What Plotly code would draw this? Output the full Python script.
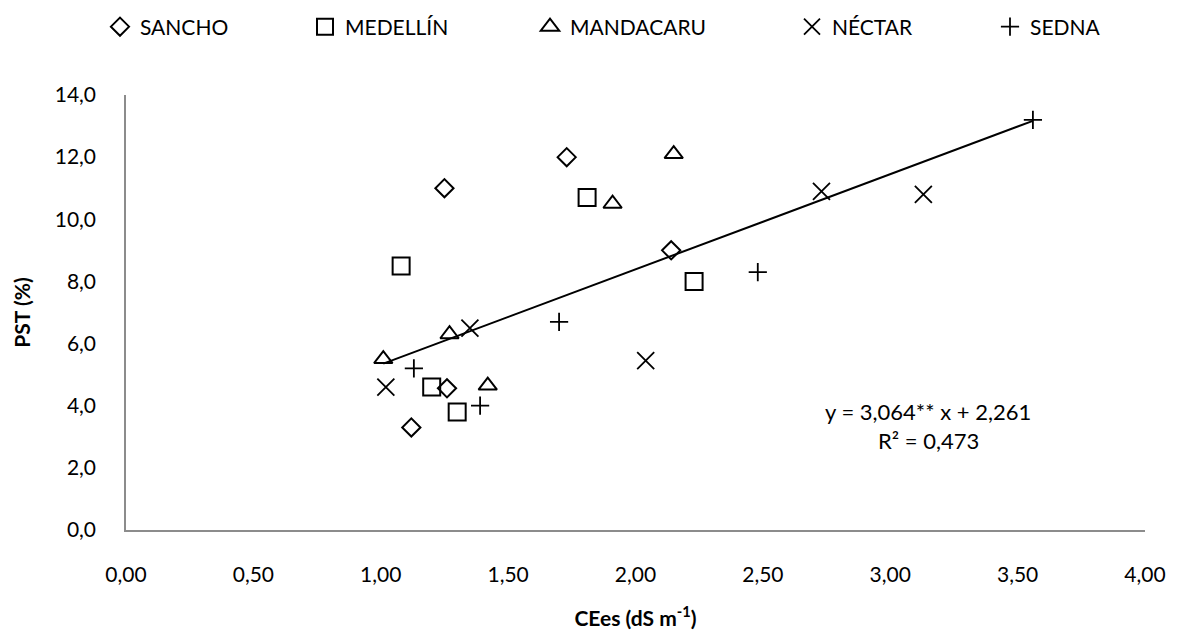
import plotly.graph_objects as go

# Electrical conductivity of the saturation extract (dS m-1) and
# exchangeable sodium percentage (%) for each cultivar
sancho_x = [1.25, 1.73, 2.14, 1.26, 1.12]
sancho_y = [11.0, 12.0, 9.0, 4.56, 3.3]

medellin_x = [1.08, 1.81, 2.23, 1.20, 1.30]
medellin_y = [8.5, 10.7, 8.0, 4.6, 3.8]

mandacaru_x = [1.01, 1.27, 1.42, 1.91, 2.15]
mandacaru_y = [5.5, 6.3, 4.65, 10.5, 12.1]

nectar_x = [1.02, 1.35, 2.04, 2.73, 3.13]
nectar_y = [4.6, 6.5, 5.45, 10.9, 10.8]

sedna_x = [1.13, 1.39, 1.70, 2.48, 3.56]
sedna_y = [5.2, 4.0, 6.7, 8.3, 13.2]

# Linear fit reported on the chart
slope = 3.064
intercept = 2.261
r_squared = 0.473

x_ticks = [0.0, 0.5, 1.0, 1.5, 2.0, 2.5, 3.0, 3.5, 4.0]
y_ticks = [0.0, 2.0, 4.0, 6.0, 8.0, 10.0, 12.0, 14.0]

FONT = "Lato, 'Open Sans', sans-serif"
INK = "#000000"
TICK_SIZE = 21
TEXT_SIZE = 21

series = [
    ("SANCHO", sancho_x, sancho_y, "diamond-open", 14, 2.0),
    ("MEDELLÍN", medellin_x, medellin_y, "square-open", 17, 2.0),
    ("MANDACARU", mandacaru_x, mandacaru_y, "triangle-up-open", 16, 2.0),
    ("NÉCTAR", nectar_x, nectar_y, "x-thin-open", 17, 1.8),
    ("SEDNA", sedna_x, sedna_y, "cross-thin-open", 13, 1.8),
]

fig = go.Figure()

legend_ids = ["legend", "legend2", "legend3", "legend4", "legend5"]
for (name, xs, ys, symbol, size, lw), lid in zip(series, legend_ids):
    fig.add_trace(go.Scatter(
        x=xs, y=ys, mode="markers", name=name, legend=lid,
        marker=dict(symbol=symbol, size=size, color=INK,
                    line=dict(color=INK, width=lw)),
        hoverinfo="x+y+name",
    ))

# Trend line across the observed conductivity range
all_x = sancho_x + medellin_x + mandacaru_x + nectar_x + sedna_x
x_lo, x_hi = min(all_x), max(all_x)
fig.add_trace(go.Scatter(
    x=[x_lo, x_hi],
    y=[slope * x_lo + intercept, slope * x_hi + intercept],
    mode="lines", line=dict(color=INK, width=2),
    showlegend=False, hoverinfo="skip",
))

# One legend per series so each entry sits where it belongs along the top
plot_left, plot_w = 126, 1019
legend_text_px = [140, 345, 570, 832, 1030]
legend_cfg = {}
for lid, tx in zip(legend_ids, legend_text_px):
    legend_cfg[lid] = dict(
        x=(tx - 40 - plot_left) / plot_w, xanchor="left",
        y=1.0 + (95 - 27) / 435, yanchor="middle",
        orientation="h", bgcolor="rgba(0,0,0,0)", borderwidth=0,
        font=dict(family=FONT, size=TEXT_SIZE, color=INK),
        itemwidth=30,
    )

fig.update_layout(
    width=1180, height=637,
    margin=dict(l=126, r=35, t=95, b=107, autoexpand=False),
    paper_bgcolor="white", plot_bgcolor="white",
    separators=",.",
    font=dict(family=FONT, size=TEXT_SIZE, color=INK),
    showlegend=True,
    **legend_cfg,
    xaxis=dict(
        range=[0, 4], tickvals=x_ticks, tickformat=".2f",
        showline=True, linecolor="#8c8c8c", linewidth=1.5,
        ticks="", showgrid=False, zeroline=False,
        ticklabelstandoff=25,
        tickfont=dict(family=FONT, size=TICK_SIZE, color=INK),
        title=dict(text="<b>CEes (dS m<sup>-1</sup>)</b>", standoff=26,
                   font=dict(family=FONT, size=TEXT_SIZE, color=INK)),
    ),
    yaxis=dict(
        range=[0, 14], tickvals=y_ticks, tickformat=".1f",
        showline=True, linecolor="#8c8c8c", linewidth=1.5,
        ticks="", showgrid=False, zeroline=False,
        ticklabelstandoff=24,
        tickfont=dict(family=FONT, size=TICK_SIZE, color=INK),
        title=dict(text="<b>PST (%)</b>", standoff=18,
                   font=dict(family=FONT, size=TEXT_SIZE, color=INK)),
    ),
    annotations=[
        dict(x=3.15, y=3.81, xref="x", yref="y", showarrow=False,
             text=f"y = {slope:.3f}** x + {intercept:.3f}".replace(".", ","),
             font=dict(family=FONT, size=22, color=INK),
             xanchor="center", yanchor="middle"),
        dict(x=3.15, y=2.87, xref="x", yref="y", showarrow=False,
             text=f"R² = {r_squared:.3f}".replace(".", ","),
             font=dict(family=FONT, size=22, color=INK),
             xanchor="center", yanchor="middle"),
    ],
)

fig.write_html("out.html")
